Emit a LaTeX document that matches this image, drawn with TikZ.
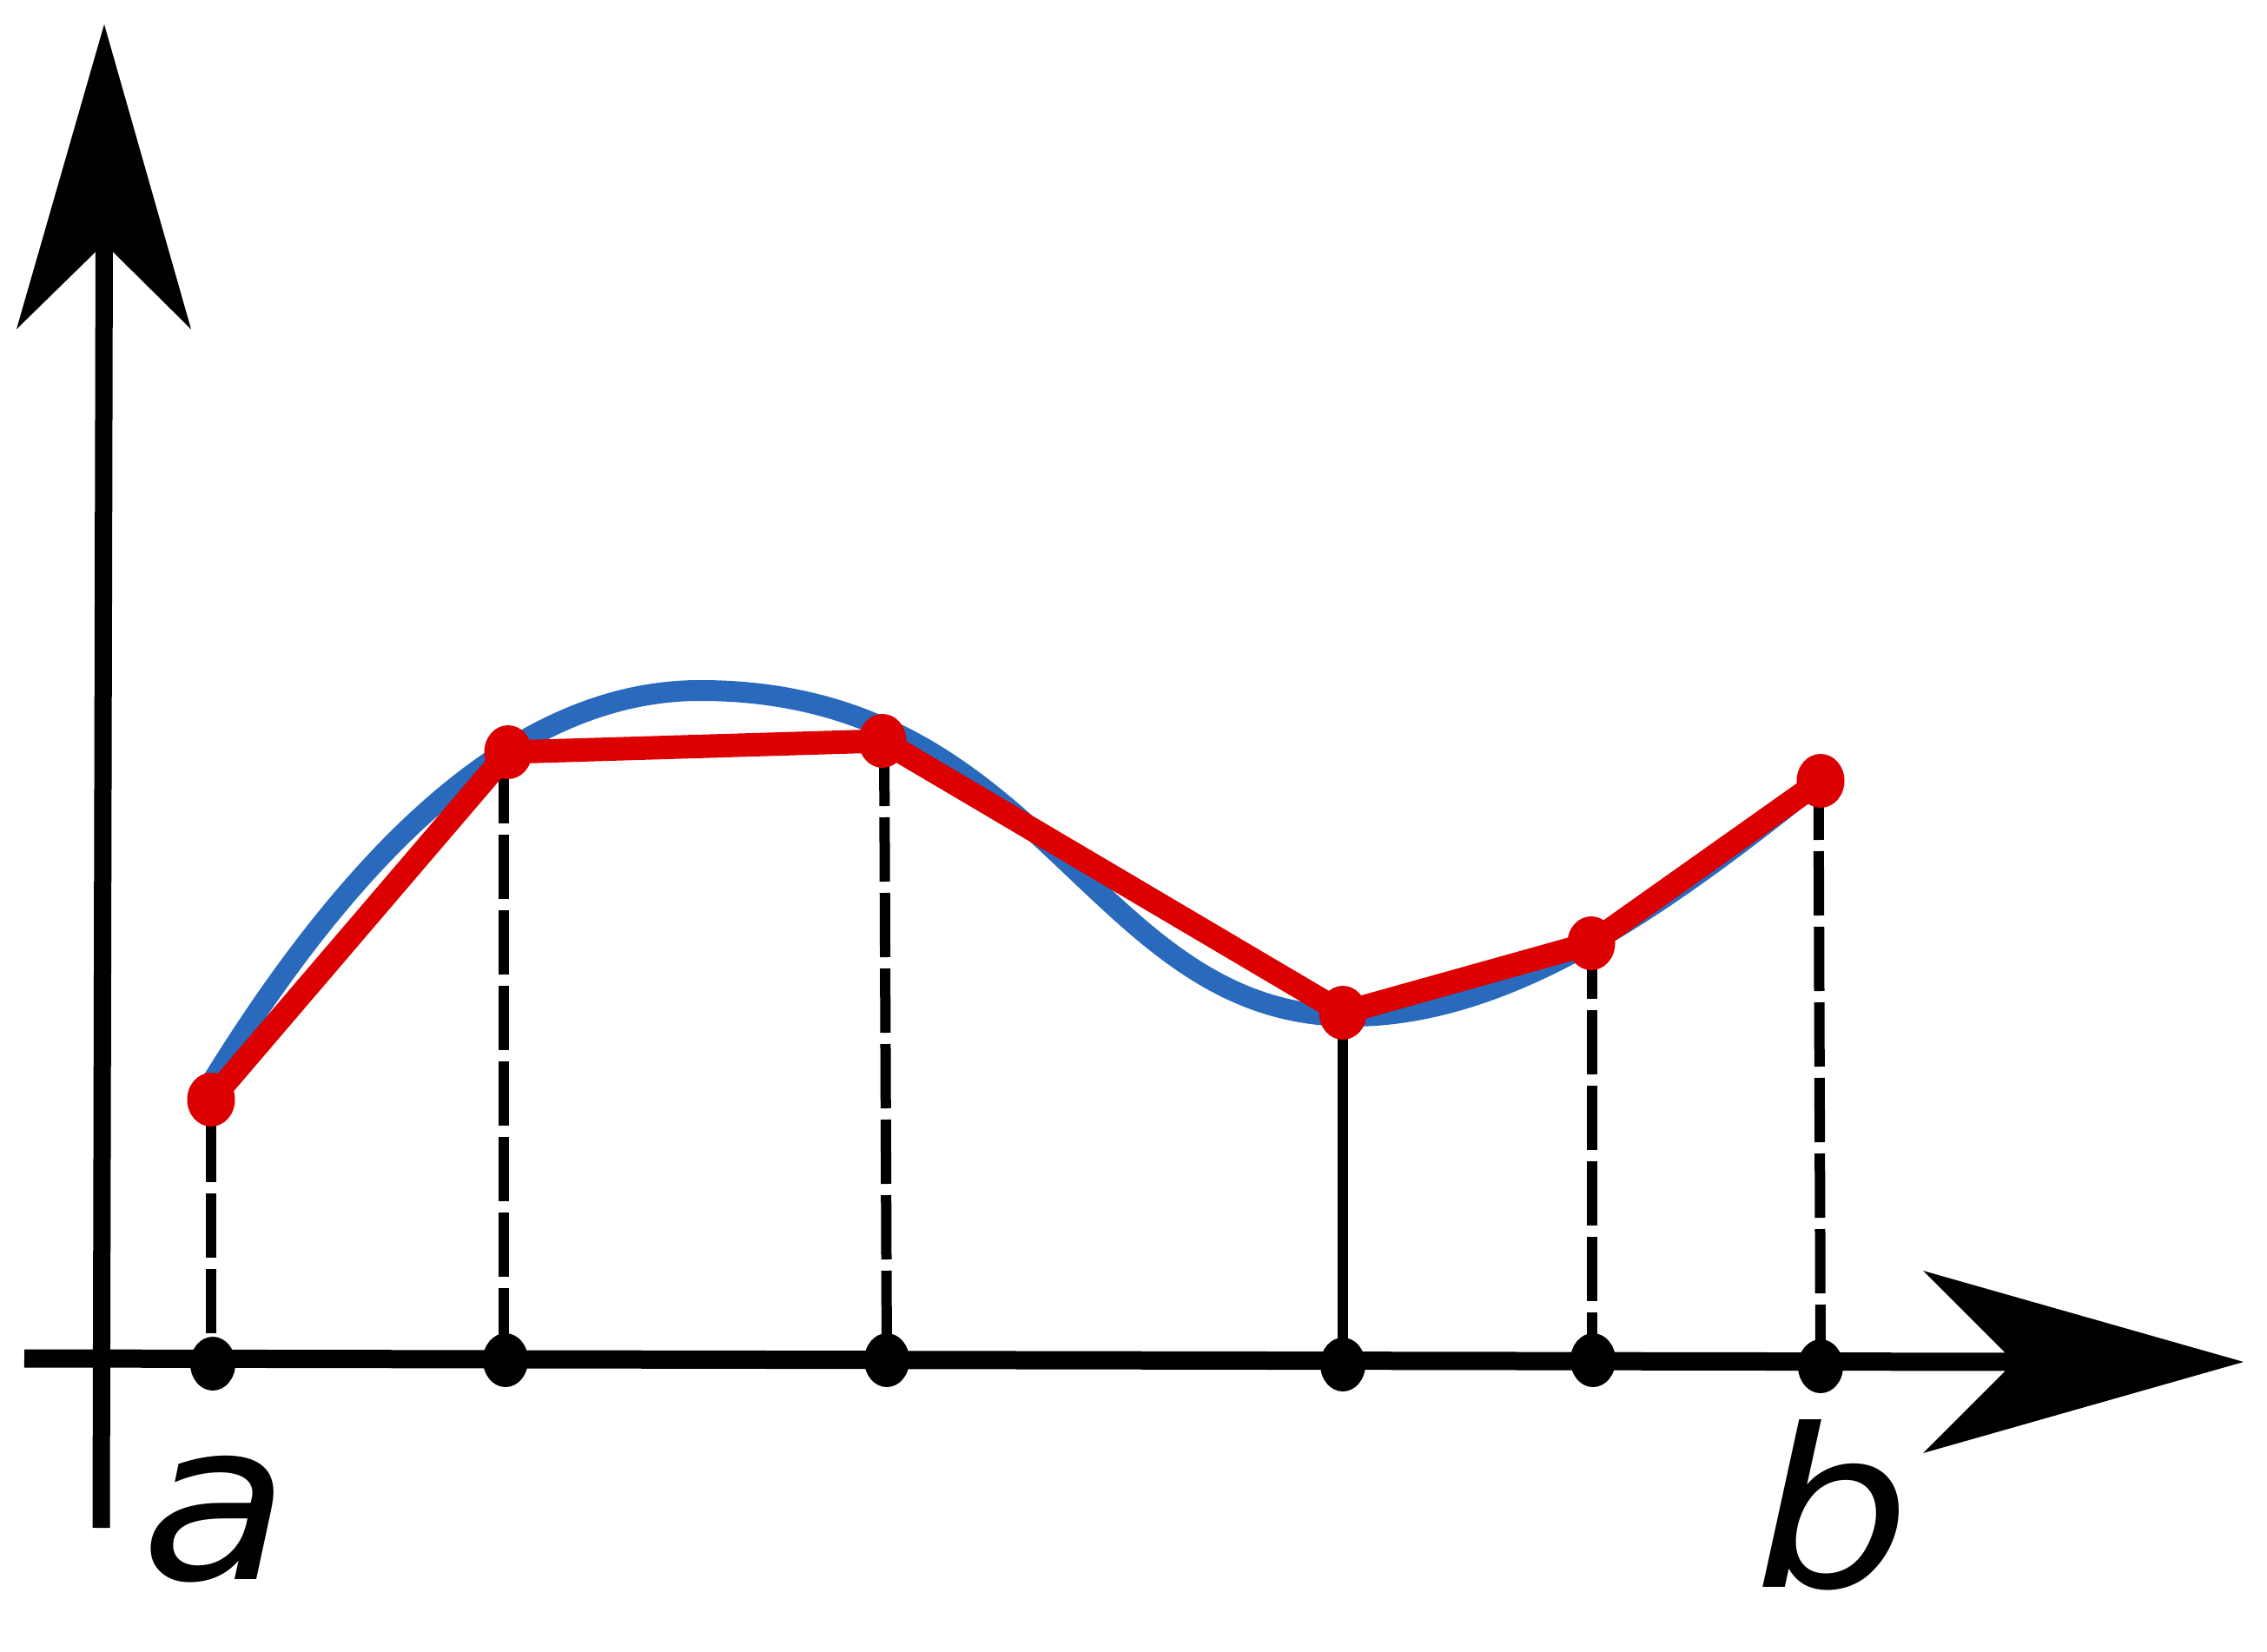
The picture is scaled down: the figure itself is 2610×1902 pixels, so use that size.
\documentclass[tikz,border=0pt]{standalone}
\usepackage{fontspec}
\newfontfamily\labfont{DejaVu Sans}
\definecolor{curveblue}{RGB}{41,106,189}
\definecolor{polyred}{RGB}{221,0,0}
\begin{document}
\begin{tikzpicture}[x=1pt,y=-1pt,
  axisline/.style={line width=21pt},
  yaxisline/.style={line width=20pt},
  guide/.style={line width=12pt, dash pattern=on 74pt off 13pt},
  guidesolid/.style={line width=12pt},
  fcurve/.style={line width=24pt, color=curveblue},
  poly/.style={line width=27pt, color=polyred, line join=round},
  reddot/.style={fill=polyred},
  blackdot/.style={fill=black},
  arrowhead/.style={fill=black},
  lab/.style={font=\labfont\itshape\fontsize{254}{300}\selectfont, inner sep=0pt, anchor=base}
]
\useasboundingbox (0,0) rectangle (2610,1902);

% sample points on the curve (red) and on the axis (black)
\coordinate (P0) at (243,1266);
\coordinate (P1) at (585,866);
\coordinate (P2) at (1016,853);
\coordinate (P3) at (1546,1166);
\coordinate (P4) at (1832,1086);
\coordinate (P5) at (2096,899);
\coordinate (B0) at (245,1570);
\coordinate (B1) at (582,1566);
\coordinate (B2) at (1021,1566);
\coordinate (B3) at (1546,1571);
\coordinate (B4) at (1834,1566);
\coordinate (B5) at (2096,1573);

% guide line ends
\coordinate (G0a) at (242.7,1535); \coordinate (G0b) at (242.7,1266);
\coordinate (G1a) at (580,874);    \coordinate (G1b) at (580,1566);
\coordinate (G2a) at (1018,854);   \coordinate (G2b) at (1021,1566);
\coordinate (G4a) at (1833,1076);  \coordinate (G4b) at (1833,1566);
\coordinate (G5a) at (2093.6,893); \coordinate (G5b) at (2096,1566);

% axes
\coordinate (XL) at (28,1564);
\coordinate (XN) at (2330,1568);
\coordinate (XT) at (2583,1568);
\coordinate (YB) at (116.5,1759);
\coordinate (YN) at (120,270);
\coordinate (YT) at (120,28);

\draw[axisline] (XL) -- (XN);
\draw[yaxisline] (YB) -- (YN);
\fill[arrowhead] (XT) -- (2214,1463) -- (2308,1557) -- (2308,1579) -- (2214,1673) -- cycle;
\fill[arrowhead] (YT) -- (220,379) -- (130,290) -- (110,290) -- (19,379) -- cycle;

% guide lines
\draw[guide] (G0a) -- (G0b);
\draw[guide] (G1a) -- (G1b);
\draw[guide] (G2a) -- (G2b);
\draw[guidesolid] (P3) -- (B3);
\draw[guide] (G4a) -- (G4b);
\draw[guide] (G5a) -- (G5b);

% axis dots
\foreach \p in {B0,B1,B2,B3,B4,B5}
  \fill[blackdot] (\p) ellipse [x radius=26pt, y radius=31pt];

% the function
\coordinate (CS) at (240,1252);
\coordinate (CM) at (806,795);
\coordinate (CN) at (1555,1170);
\coordinate (CE) at (2090,903);
\draw[fcurve] (CS) .. controls (425,950) and (612,795) .. (CM)
  .. controls (1206,795) and (1255,1170) .. (CN)
  .. controls (1735,1170) and (1910,1047) .. (CE);

% the polygon
\draw[poly] (P0) -- (P1) -- (P2) -- (P3) -- (P4) -- (P5);
\foreach \p in {P0,P1,P2,P3,P4,P5}
  \fill[reddot] (\p) ellipse [x radius=27.5pt, y radius=31pt];

% labels
\node[lab] (la) at (248,1818) {\scalebox{1.1}[1]{a}};
\node[lab] (lb) at (2110,1827) {\scalebox{1.12}[1]{b}};
\end{tikzpicture}
\end{document}
